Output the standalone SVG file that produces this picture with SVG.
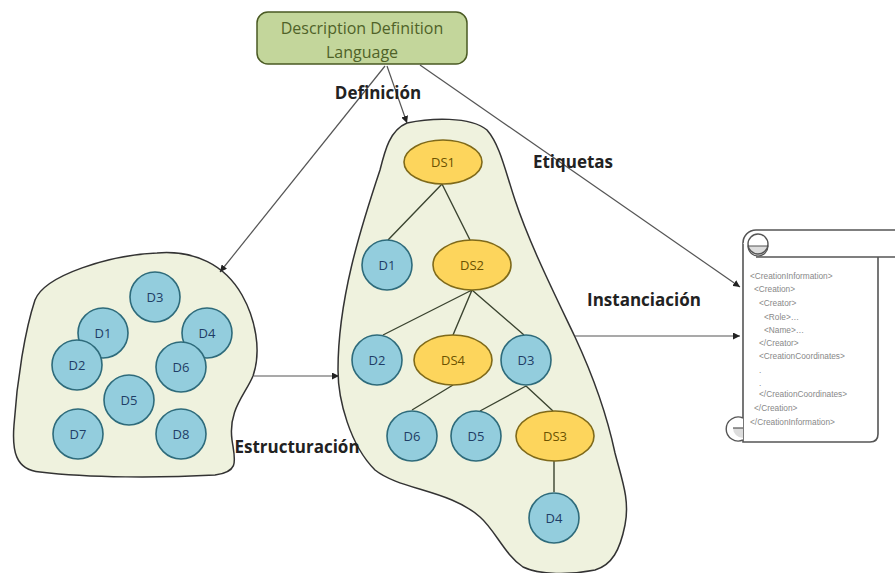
<svg xmlns="http://www.w3.org/2000/svg" width="895" height="573" viewBox="0 0 895 573">
<defs>
<marker id="ah" viewBox="0 0 10 10" refX="10" refY="5" markerWidth="7" markerHeight="7" orient="auto" markerUnits="userSpaceOnUse">
<path d="M0,0 L10,5 L0,10 Z" fill="#222"/>
</marker>
<style>
.blob{fill:#eff2de;stroke:#333;stroke-width:1.5}
.d circle{fill:#93cddd;stroke:#2e6b7b;stroke-width:1.6}
.ds ellipse{fill:#fdd55c;stroke:#7f6a1a;stroke-width:1.6}
.d text{font-family:"Open Sans",sans-serif;font-size:13px;fill:#1f3d66;text-anchor:middle}
.ds text{font-family:"Open Sans",sans-serif;font-size:13px;fill:#6b5200;text-anchor:middle}
.lbl{font-family:"Open Sans",sans-serif;font-weight:bold;font-size:17px;fill:#222}
.arr{stroke:#555;stroke-width:1.2;fill:none;marker-end:url(#ah)}
.tree{stroke:#3b4430;stroke-width:1.4;fill:none}
.xml{font-family:"Liberation Sans",sans-serif;font-size:8.3px;fill:#888}
</style>
</defs>
<rect width="895" height="573" fill="#fff"/>

<g id="ddl">
<rect x="257" y="12" width="210" height="52" rx="11" fill="#c3d69b" stroke="#4a5a23" stroke-width="1.5"/>
<text x="362" y="34" font-family="'Open Sans',sans-serif" font-size="16" fill="#4f6228" text-anchor="middle">Description Definition</text>
<text x="362" y="58" font-family="'Open Sans',sans-serif" font-size="16" fill="#4f6228" text-anchor="middle">Language</text>
</g>

<g id="left-blob">
<path class="blob" d="M157,253 C195,250 225,265 242,295 C255,318 262,350 253,376 C245,395 228,410 232,440 C235,460 240,472 215,475 C160,478 90,478 40,472 C15,470 12,450 14,425 C17,380 25,330 35,300 C45,275 110,255 157,253 Z"/>
</g>
<g id="mid-blob">
<path class="blob" d="M407,123 C430,118 470,116 487,130 C500,145 505,170 515,200 C530,245 555,295 575,337 C595,380 608,420 615,453 C622,480 630,500 625,525 C620,550 612,565 595,570 C570,575 540,575 523,567 C505,555 495,530 480,517 C450,490 400,490 375,470 C350,445 338,400 338,370 C338,300 360,230 380,170 C385,150 390,130 407,123 Z"/>
</g>

<g id="connectors">
<line class="arr" x1="385" y1="66" x2="220" y2="272"/>
<line class="arr" x1="387" y1="66" x2="407" y2="123"/>
<line class="arr" x1="420" y1="65" x2="740" y2="287"/>
<line class="arr" x1="575" y1="336" x2="740" y2="336" stroke="#888"/>
<line class="arr" x1="254" y1="376" x2="339" y2="376"/>
<path class="tree" d="M442,184 L388,240 M442,184 L470,240 M472,290 L383,335 M472,290 L453,335 M472,290 L524,335 M453,385 L412,410 M526,386 L480,411 M526,386 L553,411 M554,461 L554,492"/>
</g>

<g id="labels">
<text class="lbl" x="378" y="99" text-anchor="middle">Definición</text>
<text class="lbl" x="573" y="168" text-anchor="middle">Etiquetas</text>
<text class="lbl" x="644" y="306" text-anchor="middle">Instanciación</text>
<text class="lbl" x="297" y="453" text-anchor="middle">Estructuración</text>
</g>

<g id="L-D3" class="d"><circle cx="155" cy="297" r="25"/><text x="155" y="302">D3</text></g>
<g id="L-D1" class="d"><circle cx="103" cy="333" r="25"/><text x="103" y="338">D1</text></g>
<g id="L-D4" class="d"><circle cx="207" cy="333" r="25"/><text x="207" y="338">D4</text></g>
<g id="L-D2" class="d"><circle cx="77" cy="365" r="25"/><text x="77" y="370">D2</text></g>
<g id="L-D6" class="d"><circle cx="181" cy="367" r="25"/><text x="181" y="372">D6</text></g>
<g id="L-D5" class="d"><circle cx="129" cy="400" r="25"/><text x="129" y="405">D5</text></g>
<g id="L-D7" class="d"><circle cx="78" cy="434" r="25"/><text x="78" y="439">D7</text></g>
<g id="L-D8" class="d"><circle cx="181" cy="434" r="25"/><text x="181" y="439">D8</text></g>

<g id="M-DS1" class="ds"><ellipse cx="443" cy="162" rx="39" ry="22"/><text x="443" y="167">DS1</text></g>
<g id="M-D1" class="d"><circle cx="387" cy="265" r="25"/><text x="387" y="270">D1</text></g>
<g id="M-DS2" class="ds"><ellipse cx="472" cy="265" rx="39" ry="25"/><text x="472" y="270">DS2</text></g>
<g id="M-D2" class="d"><circle cx="377" cy="360" r="25"/><text x="377" y="365">D2</text></g>
<g id="M-DS4" class="ds"><ellipse cx="453" cy="360" rx="39" ry="25"/><text x="453" y="365">DS4</text></g>
<g id="M-D3" class="d"><circle cx="526" cy="360" r="25"/><text x="526" y="365">D3</text></g>
<g id="M-D6" class="d"><circle cx="412" cy="436" r="25"/><text x="412" y="441">D6</text></g>
<g id="M-D5" class="d"><circle cx="476" cy="436" r="25"/><text x="476" y="441">D5</text></g>
<g id="M-DS3" class="ds"><ellipse cx="555" cy="436" rx="39" ry="25"/><text x="555" y="441">DS3</text></g>
<g id="M-D4" class="d"><circle cx="554" cy="518" r="25"/><text x="554" y="523">D4</text></g>

<g id="scroll">
<path d="M743,243 L743,442 L870,442 Q878,442 878,434 L878,257" fill="#fff" stroke="#555" stroke-width="1.6"/>
<path d="M743,243 A13,13 0 0 1 756,230 L900,230 L900,257 L756,257" fill="#fff" stroke="#555" stroke-width="1.6"/>
<path d="M748,246 A10,10 0 0 0 768,246 Z" fill="#ddd" stroke="#555" stroke-width="1.2"/>
<circle cx="758" cy="244" r="10" fill="none" stroke="#555" stroke-width="1.4"/>
<path d="M743,418 A12,12 0 1 0 743,440" fill="#fff" stroke="#555" stroke-width="1.4"/>
<path d="M733,428 L743,428 L743,438 A10,10 0 0 1 733,428 Z" fill="#ddd" stroke="none"/>
<path d="M733,428 L743,428" stroke="#555" stroke-width="1.2"/>
<text class="xml" x="750" y="279">&lt;CreationInformation&gt;</text>
<text class="xml" x="754" y="292">&lt;Creation&gt;</text>
<text class="xml" x="759" y="306">&lt;Creator&gt;</text>
<text class="xml" x="764" y="320">&lt;Role&gt;…</text>
<text class="xml" x="764" y="333">&lt;Name&gt;…</text>
<text class="xml" x="759" y="346">&lt;/Creator&gt;</text>
<text class="xml" x="759" y="359">&lt;CreationCoordinates&gt;</text>
<text class="xml" x="759" y="373">.</text>
<text class="xml" x="759" y="386">.</text>
<text class="xml" x="759" y="397">&lt;/CreationCoordinates&gt;</text>
<text class="xml" x="754" y="411">&lt;/Creation&gt;</text>
<text class="xml" x="750" y="425">&lt;/CreationInformation&gt;</text>
</g>
</svg>
